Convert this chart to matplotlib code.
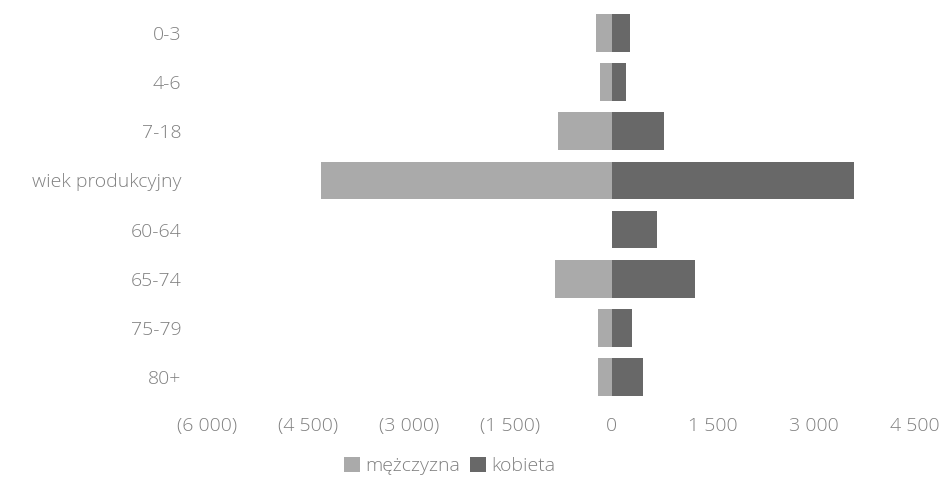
import matplotlib
matplotlib.use("Agg")
import matplotlib.pyplot as plt

categories = ["0-3", "4-6", "7-18", "wiek produkcyjny", "60-64", "65-74", "75-79", "80+"]
men = [235, 176, 794, 4320, 0, 838, 206, 206]
women = [280, 220, 780, 3600, 676, 1235, 309, 470]

tick_values = [-6000, -4500, -3000, -1500, 0, 1500, 3000, 4500]
tick_labels = ["(6 000)", "(4 500)", "(3 000)", "(1 500)", "0", "1 500", "3 000", "4 500"]

plt.rcParams['font.family'] = ['Open Sans', 'DejaVu Sans']
plt.rcParams['font.weight'] = 300
text_color = '#808080'

fig = plt.figure(figsize=(9.39, 4.79), dpi=100)
ax = fig.add_axes([0.221, 0.162, 0.753, 0.82])

y = list(range(len(categories)))
ax.barh(y, [-m for m in men], height=0.77, color='#aaaaaa', label='mężczyzna')
ax.barh(y, women, height=0.77, color='#686868', label='kobieta')

ax.set_xlim(-6000, 4500)
ax.set_ylim(len(categories) - 0.5, -0.5)
ax.set_yticks(y)
ax.set_yticklabels(categories)
ax.set_xticks(tick_values)
ax.set_xticklabels(tick_labels)

for s in ax.spines.values():
    s.set_visible(False)
ax.tick_params(axis='both', length=0, labelsize=14, labelcolor=text_color)
ax.tick_params(axis='x', pad=11)
ax.tick_params(axis='y', pad=19)

fig.legend(loc='center', bbox_to_anchor=(450 / 939, 1 - 466 / 479), ncol=2,
           frameon=False, fontsize=14, labelcolor=text_color,
           handlelength=0.8, handleheight=0.8, handletextpad=0.3, columnspacing=0.5)

fig.savefig('out.png', dpi=100)
